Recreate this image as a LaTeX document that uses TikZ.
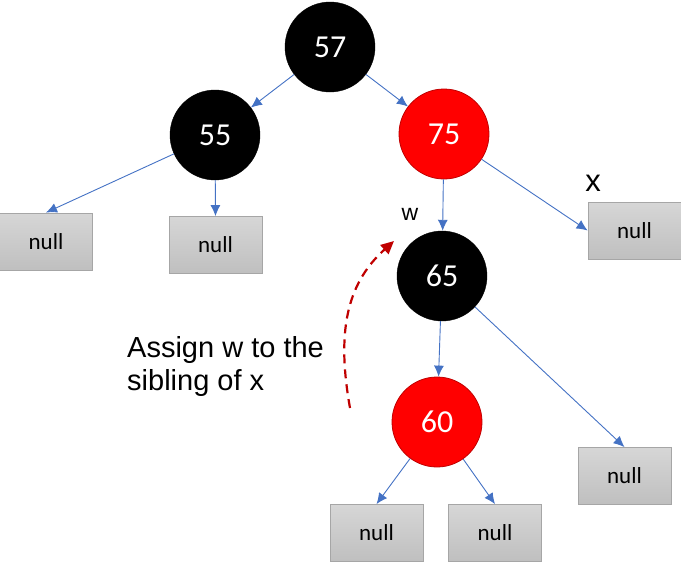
\documentclass[tikz,border=0pt]{standalone}
\usepackage{fontspec}
\setmainfont{Carlito}
\newfontfamily\arialfont{Liberation Sans}
\usetikzlibrary{arrows.meta,shapes.geometric}
\definecolor{edgeblue}{HTML}{4472C4}
\definecolor{darkred}{HTML}{C00000}
\definecolor{boxline}{HTML}{A6A6A6}

\begin{document}
\begin{tikzpicture}[x=1pt,y=-1pt,
    blacknode/.style={circle,fill=black,draw=black,minimum size=90pt,inner sep=0pt,text=white,font=\fontsize{32}{32}\selectfont},
    rednode/.style={circle,fill=red,draw=darkred,line width=0.8pt,minimum size=90pt,inner sep=0pt,text=white,font=\fontsize{32}{32}\selectfont},
    nullbox/.style={rectangle,draw=boxline,line width=0.8pt,top color=black!16,bottom color=black!25,minimum width=93pt,minimum height=57pt,inner sep=0pt,font=\fontsize{23}{23}\selectfont},
    edge/.style={draw=edgeblue,line width=0.9pt,-{Latex[length=11pt,width=10pt]}}]
            \useasboundingbox (0,0) rectangle (681,562);
            \node[blacknode] (n57) at (330,47) {57};
            \node[blacknode] (n55) at (215,135) {55};
            \node[rednode] (n75) at (444,134) {75};
            \node[blacknode] (n65) at (442,276) {65};
            \node[rednode] (n60) at (437,422) {60};
            \node[nullbox] (null1) at (46,241.5) {null};
            \node[nullbox] (null2) at (215.5,245) {null};
            \node[nullbox] (null3) at (634.5,230.5) {null};
            \node[nullbox] (null4) at (624.5,476) {null};
            \node[nullbox] (null5) at (376.5,533) {null};
            \node[nullbox] (null6) at (495,533) {null};
            \foreach \a/\b in {n57/n55,n57/n75,n75/n65,n65/n60,n55/null1.north,n55/null2.north,n75/null3.west,n65/null4.north,n60/null5.north,n60/null6.north}{
            \draw[edge] (\a) -- (\b);
            }
            \node[font=\arialfont\fontsize{31}{31}\selectfont] (xlabel) at (593,183) {x};
            \node[font=\arialfont\fontsize{23}{23}\selectfont] (wlabel) at (410,214) {w};
            \node[font=\arialfont\fontsize{29}{33}\selectfont,align=left,anchor=north west,inner sep=0pt] (assign) at (127,336) {Assign w to the\\sibling of x};
            \coordinate (dstart) at (350,408);
            \coordinate (dend) at (394,241);
            \draw[darkred,line width=2.2pt,dash pattern=on 9pt off 6pt,-{Triangle[length=13pt,width=12pt]}] (dstart) .. controls (337,335) and (345,285) .. (dend);
        \end{tikzpicture}
\end{document}
